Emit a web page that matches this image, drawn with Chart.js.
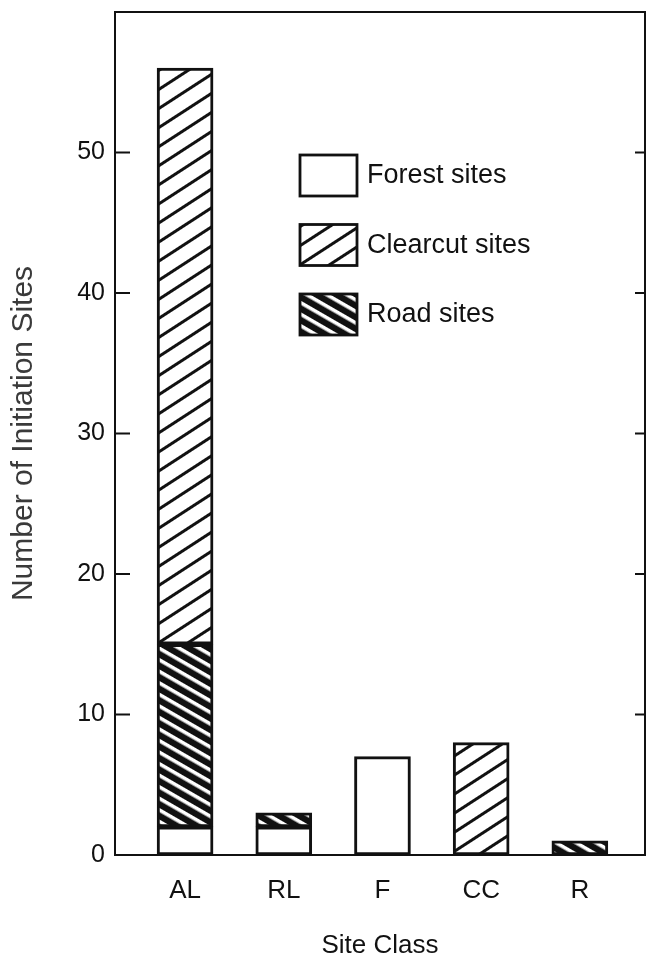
<!DOCTYPE html>
<html>
<head>
<meta charset="utf-8">
<script src="https://cdn.jsdelivr.net/npm/chart.js@4/dist/chart.umd.min.js"></script>
<style>
  html, body { margin: 0; padding: 0; background: #fff; }
  #wrap { width: 650px; height: 957px; }
</style>
</head>
<body>
<div id="wrap"><canvas id="siteChart"></canvas></div>
<script>
var categories = ["AL", "RL", "F", "CC", "R"];
var forestSites = [2, 2, 7, null, null];
var roadSites = [13, 1, null, null, 1];
var clearcutSites = [41, null, null, 8, null];
var yTicks = [0, 10, 20, 30, 40, 50];
var legendOrder = ["Forest sites", "Clearcut sites", "Road sites"];

// striped fill: horizontal stripes in a tile, rotated
function stripes(period, lineWidth, angle, ink, paper) {
  var tile = document.createElement("canvas");
  tile.width = 8;
  tile.height = period;
  var t = tile.getContext("2d");
  t.fillStyle = paper;
  t.fillRect(0, 0, 8, period);
  t.fillStyle = ink;
  t.fillRect(0, 0, 8, lineWidth);
  var p = t.createPattern(tile, "repeat");
  p.setTransform(new DOMMatrix().rotate(angle));
  return p;
}

var clearcutFill = stripes(16, 3, -33, "#111", "#fff");
var roadFill = stripes(10, 3.6, 30, "#fff", "#111");

function points(values) {
  return values.map(function (v, i) {
    return { x: i, y: v };
  });
}

var font = "'Liberation Sans', Arial, Helvetica, sans-serif";

var frameAndLegend = {
  id: "frameAndLegend",
  afterDraw: function (chart) {
    var ctx = chart.ctx;
    var area = chart.chartArea;
    var y = chart.scales.y;
    ctx.save();
    ctx.strokeStyle = "#111";
    ctx.lineWidth = 2;
    ctx.strokeRect(area.left, area.top, area.right - area.left, area.bottom - area.top);

    // inward ticks on both sides
    yTicks.forEach(function (v) {
      if (v === 0) return;
      var py = y.getPixelForValue(v);
      ctx.beginPath();
      ctx.moveTo(area.left, py);
      ctx.lineTo(area.left + 15, py);
      ctx.moveTo(area.right, py);
      ctx.lineTo(area.right - 10, py);
      ctx.stroke();
    });

    // legend inside the plot
    var boxX = area.left + 185;
    var boxY = area.top + 143;
    legendOrder.forEach(function (name, i) {
      var ds = chart.data.datasets.find(function (d) { return d.label === name; });
      var top = boxY + i * 69.5;
      ctx.fillStyle = ds.backgroundColor;
      ctx.fillRect(boxX, top, 57, 41);
      ctx.lineWidth = 2.8;
      ctx.strokeRect(boxX, top, 57, 41);
      ctx.fillStyle = "#111";
      ctx.font = "27px " + font;
      ctx.textBaseline = "middle";
      ctx.textAlign = "left";
      ctx.fillText(name, boxX + 67, top + 21);
    });
    ctx.restore();
  }
};

var ctx = document.getElementById("siteChart").getContext("2d");
var siteChart = new Chart(ctx, {
  type: "bar",
  data: {
    datasets: [
      { label: "Forest sites", data: points(forestSites), backgroundColor: "#fff" },
      { label: "Road sites", data: points(roadSites), backgroundColor: roadFill },
      { label: "Clearcut sites", data: points(clearcutSites), backgroundColor: clearcutFill }
    ]
  },
  options: {
    responsive: true,
    maintainAspectRatio: false,
    animation: false,
    layout: { padding: { top: 12, right: 5, left: 0, bottom: 0 } },
    datasets: {
      bar: {
        barThickness: 56,
        borderColor: "#111",
        borderWidth: 3,
        borderSkipped: false
      }
    },
    plugins: {
      legend: { display: false },
      tooltip: { enabled: false }
    },
    scales: {
      x: {
        type: "linear",
        stacked: true,
        offset: false,
        min: -0.71,
        max: 4.66,
        grid: { display: false, drawTicks: false },
        border: { display: false },
        afterBuildTicks: function (scale) {
          scale.ticks = categories.map(function (c, i) { return { value: i }; });
        },
        afterFit: function (scale) {
          scale.height = 102;
          scale.paddingLeft = 0;
          scale.paddingRight = 0;
        },
        ticks: {
          padding: 20,
          color: "#111",
          font: { family: font, size: 26 },
          callback: function (value) { return categories[value]; }
        },
        title: {
          display: true,
          text: "Site Class",
          color: "#111",
          padding: { top: 0, bottom: -4 },
          font: { family: font, size: 26 }
        }
      },
      y: {
        stacked: true,
        min: 0,
        max: 60,
        grid: { display: false, drawTicks: false },
        border: { display: false },
        afterBuildTicks: function (scale) {
          scale.ticks = yTicks.map(function (v) { return { value: v }; });
        },
        afterFit: function (scale) {
          scale.width = 115;
          scale.paddingTop = 0;
          scale.paddingBottom = 0;
        },
        ticks: {
          padding: 10,
          color: "#111",
          font: { family: font, size: 25 }
        },
        title: {
          display: true,
          text: "Number of Initiation Sites",
          color: "#3a3a3a",
          padding: { top: 6, bottom: 0 },
          font: { family: font, size: 30 }
        }
      }
    }
  },
  plugins: [frameAndLegend]
});
</script>
</body>
</html>
